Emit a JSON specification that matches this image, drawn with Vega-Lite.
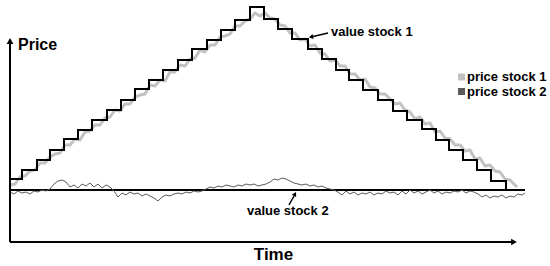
{
  "$schema": "https://vega.github.io/schema/vega-lite/v6.json",
  "width": 550,
  "height": 266,
  "padding": 0,
  "autosize": {"type": "fit", "contains": "padding"},
  "background": "white",
  "config": {"view": {"stroke": null}, "text": {"font": "Liberation Sans", "fontWeight": "bold", "color": "black"}},
  "datasets": {
    "value1": [
      {"t": 0, "p": 63}, {"t": 12, "p": 72}, {"t": 27, "p": 82}, {"t": 40, "p": 92}, {"t": 54, "p": 103},
      {"t": 68, "p": 112}, {"t": 82, "p": 122}, {"t": 97, "p": 132}, {"t": 111, "p": 142}, {"t": 125, "p": 153},
      {"t": 139, "p": 162}, {"t": 153, "p": 172}, {"t": 168, "p": 182}, {"t": 182, "p": 193}, {"t": 197, "p": 202},
      {"t": 211, "p": 212}, {"t": 225, "p": 222}, {"t": 240, "p": 235}, {"t": 254, "p": 223}, {"t": 268, "p": 213},
      {"t": 282, "p": 203}, {"t": 298, "p": 193}, {"t": 312, "p": 183}, {"t": 326, "p": 172}, {"t": 339, "p": 162},
      {"t": 353, "p": 152}, {"t": 368, "p": 142}, {"t": 383, "p": 131}, {"t": 397, "p": 122}, {"t": 412, "p": 113},
      {"t": 426, "p": 102}, {"t": 439, "p": 92}, {"t": 453, "p": 82}, {"t": 467, "p": 72}, {"t": 481, "p": 61},
      {"t": 496, "p": 52}
    ],
    "price1": [
      {"t": 0, "p": 57}, {"t": 5, "p": 58}, {"t": 10, "p": 65}, {"t": 15, "p": 66}, {"t": 20, "p": 71},
      {"t": 25, "p": 72}, {"t": 30, "p": 79}, {"t": 35, "p": 79}, {"t": 40, "p": 85}, {"t": 45, "p": 88},
      {"t": 50, "p": 89}, {"t": 55, "p": 97}, {"t": 60, "p": 97}, {"t": 65, "p": 103}, {"t": 70, "p": 102},
      {"t": 75, "p": 110}, {"t": 80, "p": 111}, {"t": 85, "p": 117}, {"t": 90, "p": 117}, {"t": 95, "p": 124},
      {"t": 100, "p": 125}, {"t": 105, "p": 132}, {"t": 110, "p": 131}, {"t": 115, "p": 138}, {"t": 120, "p": 138},
      {"t": 125, "p": 145}, {"t": 130, "p": 147}, {"t": 135, "p": 148}, {"t": 140, "p": 157}, {"t": 145, "p": 156},
      {"t": 150, "p": 162}, {"t": 155, "p": 161}, {"t": 160, "p": 170}, {"t": 165, "p": 170}, {"t": 170, "p": 177},
      {"t": 175, "p": 176}, {"t": 180, "p": 183}, {"t": 185, "p": 184}, {"t": 190, "p": 192}, {"t": 195, "p": 190},
      {"t": 200, "p": 197}, {"t": 205, "p": 197}, {"t": 210, "p": 205}, {"t": 215, "p": 206}, {"t": 220, "p": 208},
      {"t": 225, "p": 216}, {"t": 230, "p": 216}, {"t": 235, "p": 221}, {"t": 240, "p": 223}, {"t": 245, "p": 229},
      {"t": 250, "p": 226}, {"t": 255, "p": 229}, {"t": 260, "p": 224}, {"t": 265, "p": 223}, {"t": 270, "p": 217},
      {"t": 275, "p": 216}, {"t": 280, "p": 209}, {"t": 285, "p": 209}, {"t": 290, "p": 202}, {"t": 295, "p": 203},
      {"t": 300, "p": 196}, {"t": 305, "p": 197}, {"t": 310, "p": 189}, {"t": 315, "p": 188}, {"t": 320, "p": 181},
      {"t": 325, "p": 182}, {"t": 330, "p": 176}, {"t": 335, "p": 176}, {"t": 340, "p": 168}, {"t": 345, "p": 168},
      {"t": 350, "p": 162}, {"t": 355, "p": 163}, {"t": 360, "p": 155}, {"t": 365, "p": 154}, {"t": 370, "p": 148},
      {"t": 375, "p": 148}, {"t": 380, "p": 143}, {"t": 385, "p": 138}, {"t": 390, "p": 139}, {"t": 395, "p": 132},
      {"t": 400, "p": 130}, {"t": 405, "p": 123}, {"t": 410, "p": 125}, {"t": 415, "p": 118}, {"t": 420, "p": 119},
      {"t": 425, "p": 110}, {"t": 430, "p": 111}, {"t": 435, "p": 104}, {"t": 440, "p": 103}, {"t": 445, "p": 97},
      {"t": 450, "p": 97}, {"t": 455, "p": 91}, {"t": 460, "p": 92}, {"t": 465, "p": 83}, {"t": 470, "p": 84},
      {"t": 475, "p": 76}, {"t": 480, "p": 77}, {"t": 485, "p": 71}, {"t": 490, "p": 70}, {"t": 495, "p": 63},
      {"t": 500, "p": 62}, {"t": 505, "p": 57}, {"t": 507, "p": 55}
    ],
    "value2": [{"t": 0, "p": 52}, {"t": 515, "p": 52}],
    "price2": [
      {"t": 0, "p": 50}, {"t": 4, "p": 48}, {"t": 8, "p": 51}, {"t": 12, "p": 49}, {"t": 16, "p": 50},
      {"t": 20, "p": 48}, {"t": 24, "p": 51}, {"t": 28, "p": 50}, {"t": 32, "p": 52}, {"t": 36, "p": 51},
      {"t": 40, "p": 53}, {"t": 44, "p": 58}, {"t": 48, "p": 61}, {"t": 52, "p": 62}, {"t": 56, "p": 60},
      {"t": 60, "p": 55}, {"t": 64, "p": 57}, {"t": 68, "p": 54}, {"t": 72, "p": 58}, {"t": 76, "p": 56},
      {"t": 80, "p": 59}, {"t": 84, "p": 55}, {"t": 88, "p": 58}, {"t": 92, "p": 54}, {"t": 96, "p": 57},
      {"t": 100, "p": 55}, {"t": 104, "p": 51}, {"t": 108, "p": 45}, {"t": 112, "p": 49}, {"t": 116, "p": 47},
      {"t": 120, "p": 50}, {"t": 124, "p": 48}, {"t": 128, "p": 49}, {"t": 132, "p": 46}, {"t": 136, "p": 48},
      {"t": 140, "p": 46}, {"t": 144, "p": 44}, {"t": 148, "p": 41}, {"t": 152, "p": 45}, {"t": 156, "p": 47},
      {"t": 160, "p": 46}, {"t": 164, "p": 48}, {"t": 168, "p": 49}, {"t": 172, "p": 48}, {"t": 176, "p": 50},
      {"t": 180, "p": 49}, {"t": 184, "p": 51}, {"t": 188, "p": 50}, {"t": 192, "p": 51}, {"t": 196, "p": 53},
      {"t": 200, "p": 55}, {"t": 204, "p": 54}, {"t": 208, "p": 56}, {"t": 212, "p": 55}, {"t": 216, "p": 57},
      {"t": 220, "p": 56}, {"t": 224, "p": 55}, {"t": 228, "p": 57}, {"t": 232, "p": 56}, {"t": 236, "p": 58},
      {"t": 240, "p": 57}, {"t": 244, "p": 58}, {"t": 248, "p": 56}, {"t": 252, "p": 57}, {"t": 256, "p": 58},
      {"t": 260, "p": 60}, {"t": 264, "p": 63}, {"t": 268, "p": 62}, {"t": 272, "p": 64}, {"t": 276, "p": 63},
      {"t": 280, "p": 61}, {"t": 284, "p": 59}, {"t": 288, "p": 58}, {"t": 292, "p": 57}, {"t": 296, "p": 58},
      {"t": 300, "p": 56}, {"t": 304, "p": 57}, {"t": 308, "p": 55}, {"t": 312, "p": 56}, {"t": 316, "p": 54},
      {"t": 320, "p": 53}, {"t": 324, "p": 52}, {"t": 328, "p": 50}, {"t": 332, "p": 47}, {"t": 336, "p": 51},
      {"t": 340, "p": 48}, {"t": 344, "p": 50}, {"t": 348, "p": 47}, {"t": 352, "p": 49}, {"t": 356, "p": 48},
      {"t": 360, "p": 50}, {"t": 364, "p": 47}, {"t": 368, "p": 49}, {"t": 372, "p": 48}, {"t": 376, "p": 51},
      {"t": 380, "p": 49}, {"t": 384, "p": 50}, {"t": 388, "p": 47}, {"t": 392, "p": 51}, {"t": 396, "p": 48},
      {"t": 400, "p": 52}, {"t": 404, "p": 49}, {"t": 408, "p": 51}, {"t": 412, "p": 48}, {"t": 416, "p": 50},
      {"t": 420, "p": 52}, {"t": 424, "p": 49}, {"t": 428, "p": 51}, {"t": 432, "p": 48}, {"t": 436, "p": 50},
      {"t": 440, "p": 49}, {"t": 444, "p": 51}, {"t": 448, "p": 50}, {"t": 452, "p": 52}, {"t": 456, "p": 49},
      {"t": 460, "p": 51}, {"t": 464, "p": 50}, {"t": 468, "p": 48}, {"t": 472, "p": 45}, {"t": 476, "p": 47},
      {"t": 480, "p": 44}, {"t": 484, "p": 46}, {"t": 488, "p": 45}, {"t": 492, "p": 47}, {"t": 496, "p": 44},
      {"t": 500, "p": 46}, {"t": 504, "p": 45}, {"t": 508, "p": 48}, {"t": 512, "p": 47}, {"t": 515, "p": 49}
    ],
    "one": [{}]
  },
  "layer": [
    {
      "data": {"name": "price1"},
      "mark": {"type": "line", "color": "#c2c2c2", "strokeWidth": 3, "strokeJoin": "round"},
      "encoding": {
        "x": {"field": "t", "type": "quantitative", "scale": {"domain": [-10, 540], "nice": false, "zero": false}, "axis": null},
        "y": {"field": "p", "type": "quantitative", "scale": {"domain": [-24, 242], "nice": false, "zero": false}, "axis": null}
      }
    },
    {
      "data": {"name": "value1"},
      "mark": {"type": "line", "interpolate": "step-after", "color": "black", "strokeWidth": 2},
      "encoding": {
        "x": {"field": "t", "type": "quantitative", "scale": {"domain": [-10, 540], "nice": false, "zero": false}, "axis": null},
        "y": {"field": "p", "type": "quantitative", "scale": {"domain": [-24, 242], "nice": false, "zero": false}, "axis": null}
      }
    },
    {
      "data": {"name": "value2"},
      "mark": {"type": "line", "color": "black", "strokeWidth": 2},
      "encoding": {
        "x": {"field": "t", "type": "quantitative", "scale": {"domain": [-10, 540], "nice": false, "zero": false}, "axis": null},
        "y": {"field": "p", "type": "quantitative", "scale": {"domain": [-24, 242], "nice": false, "zero": false}, "axis": null}
      }
    },
    {
      "data": {"name": "price2"},
      "mark": {"type": "line", "color": "#5a5a5a", "strokeWidth": 1},
      "encoding": {
        "x": {"field": "t", "type": "quantitative", "scale": {"domain": [-10, 540], "nice": false, "zero": false}, "axis": null},
        "y": {"field": "p", "type": "quantitative", "scale": {"domain": [-24, 242], "nice": false, "zero": false}, "axis": null}
      }
    },
    {
      "data": {"name": "one"},
      "mark": {"type": "rule", "color": "black", "strokeWidth": 2},
      "encoding": {"x": {"datum": 0}, "y": {"datum": 0}, "y2": {"datum": 200}}
    },
    {
      "data": {"name": "one"},
      "mark": {"type": "rule", "color": "black", "strokeWidth": 2},
      "encoding": {"x": {"datum": 0}, "x2": {"datum": 502}, "y": {"datum": 0}}
    },
    {
      "data": {"name": "one"},
      "mark": {"type": "point", "shape": "triangle-up", "filled": true, "color": "black", "opacity": 1, "size": 45},
      "encoding": {"x": {"datum": 0}, "y": {"datum": 201}}
    },
    {
      "data": {"name": "one"},
      "mark": {"type": "point", "shape": "triangle-right", "filled": true, "color": "black", "opacity": 1, "size": 45},
      "encoding": {"x": {"datum": 504}, "y": {"datum": 0}}
    },
    {
      "data": {"name": "one"},
      "mark": {"type": "rule", "color": "black", "strokeWidth": 1.5},
      "encoding": {"x": {"datum": 318}, "y": {"datum": 209}, "x2": {"datum": 303}, "y2": {"datum": 205.5}}
    },
    {
      "data": {"name": "one"},
      "mark": {"type": "point", "shape": "triangle-up", "filled": true, "color": "black", "opacity": 1, "size": 25, "angle": 257},
      "encoding": {"x": {"datum": 301}, "y": {"datum": 205}}
    },
    {
      "data": {"name": "one"},
      "mark": {"type": "rule", "color": "black", "strokeWidth": 1.5},
      "encoding": {"x": {"datum": 279}, "y": {"datum": 37}, "x2": {"datum": 284}, "y2": {"datum": 46}}
    },
    {
      "data": {"name": "one"},
      "mark": {"type": "point", "shape": "triangle-up", "filled": true, "color": "black", "opacity": 1, "size": 25, "angle": 29},
      "encoding": {"x": {"datum": 285}, "y": {"datum": 48}}
    },
    {
      "data": {"name": "one"},
      "mark": {"type": "text", "text": "Price", "fontSize": 16, "align": "left", "baseline": "alphabetic"},
      "encoding": {"x": {"datum": 8}, "y": {"datum": 192}}
    },
    {
      "data": {"name": "one"},
      "mark": {"type": "text", "text": "Time", "fontSize": 17, "align": "center", "baseline": "alphabetic"},
      "encoding": {"x": {"datum": 263.5}, "y": {"datum": -18}}
    },
    {
      "data": {"name": "one"},
      "mark": {"type": "text", "text": "value stock 1", "fontSize": 13, "align": "left", "baseline": "alphabetic"},
      "encoding": {"x": {"datum": 321}, "y": {"datum": 206}}
    },
    {
      "data": {"name": "one"},
      "mark": {"type": "text", "text": "value stock 2", "fontSize": 13, "align": "left", "baseline": "alphabetic"},
      "encoding": {"x": {"datum": 237}, "y": {"datum": 27}}
    },
    {
      "data": {"name": "one"},
      "mark": {"type": "point", "shape": "square", "filled": true, "color": "#c2c2c2", "opacity": 1, "size": 49},
      "encoding": {"x": {"datum": 451.5}, "y": {"datum": 165}}
    },
    {
      "data": {"name": "one"},
      "mark": {"type": "point", "shape": "square", "filled": true, "color": "#5a5a5a", "opacity": 1, "size": 49},
      "encoding": {"x": {"datum": 451.5}, "y": {"datum": 150.5}}
    },
    {
      "data": {"name": "one"},
      "mark": {"type": "text", "text": "price stock 1", "fontSize": 13, "align": "left", "baseline": "alphabetic"},
      "encoding": {"x": {"datum": 457}, "y": {"datum": 161}}
    },
    {
      "data": {"name": "one"},
      "mark": {"type": "text", "text": "price stock 2", "fontSize": 13, "align": "left", "baseline": "alphabetic"},
      "encoding": {"x": {"datum": 457}, "y": {"datum": 146.5}}
    }
  ]
}
